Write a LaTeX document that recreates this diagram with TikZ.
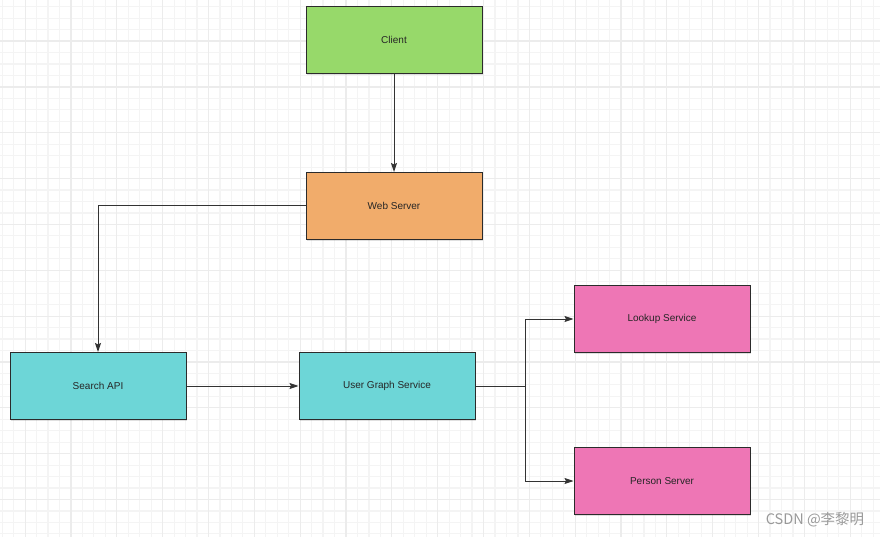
\documentclass[tikz,border=0pt]{standalone}
\usepackage{fontspec}
\setmainfont{Liberation Sans}
\newfontfamily\cjkfont{Noto Sans CJK SC}
\usetikzlibrary{arrows.meta,shadows}

\definecolor{clientgreen}{HTML}{97D96A}
\definecolor{webapricot}{HTML}{F1AC6B}
\definecolor{apicyan}{HTML}{6DD6D7}
\definecolor{servicepink}{HTML}{EE76B5}
\definecolor{boxline}{HTML}{2B2B2B}
\definecolor{linkgray}{HTML}{333333}
\definecolor{gridminor}{HTML}{F4F4F4}
\definecolor{gridmajor}{HTML}{ECECEC}

\tikzset{
  box/.style={draw=boxline, line width=1pt, minimum width=176pt, minimum height=67pt,
    inner sep=0pt, font=\fontsize{10}{12}\selectfont, text=black!85,
    drop shadow={shadow xshift=1pt, shadow yshift=-1.5pt, fill=black, opacity=0.12}},
  link/.style={draw=linkgray, line width=1pt, -{Stealth[length=9pt,width=6pt,inset=1.5pt]}},
  minorline/.style={draw=gridminor, line width=1.2pt},
  majorline/.style={draw=gridmajor, line width=1.2pt},
}

\begin{document}
\begin{tikzpicture}[x=1pt,y=-1pt]
    \useasboundingbox (0,0) rectangle (880,537);
    \fill[white] (0,0) rectangle (880,537);
    % background grid
    \foreach \i in {0,...,77}{
        \draw[minorline] ({2.2+11.46*\i},0) -- ({2.2+11.46*\i},537);
    }
    \foreach \j in {0,...,47}{
        \draw[minorline] (0,{6.7+11.46*\j}) -- (880,{6.7+11.46*\j});
    }
    \foreach \i in {0,...,19}{
        \draw[majorline] ({25.1+45.84*\i},0) -- ({25.1+45.84*\i},537);
    }
    \foreach \j in {0,...,11}{
        \draw[majorline] (0,{41.1+45.84*\j}) -- (880,{41.1+45.84*\j});
    }

    % boxes
    \node[box, fill=clientgreen] (client) at (394,40) {Client};
    \node[box, fill=webapricot] (web) at (394,206) {Web Server};
    \node[box, fill=apicyan] (search) at (98,386) {Search API};
    \node[box, fill=apicyan] (graph) at (387,386) {User Graph Service};
    \node[box, fill=servicepink] (lookup) at (662,319) {Lookup Service};
    \node[box, fill=servicepink] (person) at (662,481) {Person Server};

    % connectors
    \draw[link] (client) -- (web);
    \draw[link] (web.west) -| (search.north);
    \draw[link] (search) -- (graph);
    \draw[link] (graph.east) -- ++(50,0) |- (lookup.west);
    \draw[link] (graph.east) -- ++(50,0) |- (person.west);

    \node[text=black!40, font=\cjkfont\fontsize{14.5}{16}\selectfont] (mark) at (815,520) {CSDN @李黎明};
\end{tikzpicture}
\end{document}
